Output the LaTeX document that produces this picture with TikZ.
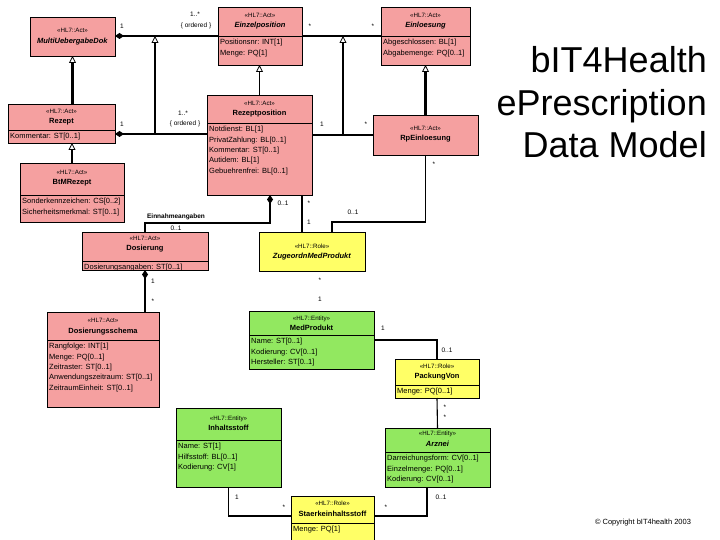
\documentclass[tikz,border=0pt]{standalone}
\usepackage{fontspec}
\setmainfont{Liberation Sans}
\usetikzlibrary{arrows.meta,calc}
\definecolor{actpink}{RGB}{245,160,160}
\definecolor{entgreen}{RGB}{146,232,96}
\definecolor{roleyel}{RGB}{255,255,102}
\newcommand{\stfont}{\fontsize{6.2}{10.5}\selectfont\mdseries}
\tikzset{
  boxbase/.style={draw=black, line width=0.9pt, inner sep=0pt, outer sep=0pt},
  act/.style={boxbase, fill=actpink},
  ent/.style={boxbase, fill=entgreen},
  role/.style={boxbase, fill=roleyel},
  divline/.style={draw=black, line width=0.8pt},
  hdr/.style={align=center, inner sep=0pt, font=\fontsize{7.5}{10.5}\selectfont\bfseries},
  attrs/.style={align=left, inner sep=0pt, anchor=north west, font=\fontsize{7.5}{10.4}\selectfont},
  lbl/.style={inner sep=0pt, font=\fontsize{6.5}{8}\selectfont},
  rolename/.style={inner sep=0pt, font=\fontsize{6.5}{8}\selectfont\bfseries},
  titletext/.style={inner sep=0pt, anchor=base east, font=\fontsize{36}{43}\selectfont},
  assoc/.style={line width=1.1pt},
  thickassoc/.style={line width=2.2pt},
  comp/.style={-{Diamond[length=9pt,width=6pt]}},
  gen/.style={line width=1.1pt, -{Triangle[length=7pt,width=7pt,fill=white,line width=0.8pt]}},
  thickgen/.style={line width=2.2pt, -{Triangle[length=7pt,width=7pt,fill=white,line width=0.8pt]}}
}
% #1 name, #2 x, #3 y, #4 w, #5 h, #6 style, #7 header text centre offset, #8 stereotype, #9 class name
\newcommand{\umlclass}[9]{%
  \node[#6, minimum width=#4pt, minimum height=#5pt, anchor=north west] (#1) at (#2,#3) {};
  \node[hdr] (#1-hd) at ($(#1.north)+(0,#7)$) {{\stfont «HL7::#8»}\\#9};
}
% #1 name, #2 divider offset, #3 attributes
\newcommand{\umlattrs}[3]{%
  \draw[divline] ($(#1.north west)+(0,#2)$) -- ($(#1.north east)+(0,#2)$);
  \node[attrs] (#1-at) at ($(#1.north west)+(2,#2+3.0)$) {#3};
}
\begin{document}
\begin{tikzpicture}[x=1pt,y=-1pt]
\useasboundingbox (0,0) rectangle (720,540);
\fill[white] (0,0) rectangle (720,540);
\clip (0,0) rectangle (720,540);

% ---------- classes ----------
\umlclass{mud}{30}{17}{85}{39}{act}{19.5}{Act}{\textit{MultiUebergabeDok}}
\umlclass{einz}{218}{7}{84}{58}{act}{14}{Act}{\textit{Einzelposition}}
\umlattrs{einz}{29}{Positionsnr: INT[1]\\Menge: PQ[1]}
\umlclass{einl}{381}{7}{89}{58}{act}{14}{Act}{\textit{Einloesung}}
\umlattrs{einl}{29}{Abgeschlossen: BL[1]\\Abgabemenge: PQ[0..1]}
\umlclass{rezept}{8}{104}{107}{39}{act}{13}{Act}{Rezept}
\umlattrs{rezept}{26}{Kommentar: ST[0..1]}
\umlclass{rpos}{207}{95}{105}{100}{act}{14}{Act}{Rezeptposition}
\umlattrs{rpos}{28}{Notdienst: BL[1]\\PrivatZahlung: BL[0..1]\\Kommentar: ST[0..1]\\Autidem: BL[1]\\Gebuehrenfrei: BL[0..1]}
\umlclass{rpein}{373}{115}{105}{40}{act}{19}{Act}{RpEinloesung}
\umlclass{btm}{20}{163}{104}{59}{act}{15}{Act}{BtMRezept}
\umlattrs{btm}{32}{Sonderkennzeichen: CS[0..2]\\Sicherheitsmerkmal: ST[0..1]}
\umlclass{dos}{82}{232}{126}{38}{act}{12}{Act}{Dosierung}
\umlattrs{dos}{29}{Dosierungsangaben: ST[0..1]}
\umlclass{zug}{259}{232}{106}{39}{role}{20}{Role}{\textit{ZugeordnMedProdukt}}
\umlclass{dsch}{47}{312}{112}{95}{act}{14.5}{Act}{Dosierungsschema}
\umlattrs{dsch}{28}{Rangfolge: INT[1]\\Menge: PQ[0..1]\\Zeitraster: ST[0..1]\\Anwendungszeitraum: ST[0..1]\\ZeitraumEinheit: ST[0..1]}
\umlclass{medp}{249}{311}{125}{58}{ent}{12.5}{Entity}{MedProdukt}
\umlattrs{medp}{24}{Name: ST[0..1]\\Kodierung: CV[0..1]\\Hersteller: ST[0..1]}
\umlclass{pack}{395}{359}{84}{39}{role}{13}{Role}{PackungVon}
\umlattrs{pack}{26}{Menge: PQ[0..1]}
\umlclass{inh}{176}{408}{105}{79}{ent}{15.5}{Entity}{Inhaltsstoff}
\umlattrs{inh}{32}{Name: ST[1]\\Hilfsstoff: BL[0..1]\\Kodierung: CV[1]}
\umlclass{arz}{385}{428}{105}{59}{ent}{11}{Entity}{\textit{Arznei}}
\umlattrs{arz}{24}{Darreichungsform: CV[0..1]\\Einzelmenge: PQ[0..1]\\Kodierung: CV[0..1]}
\umlclass{stk}{291}{496}{83}{48}{role}{13}{Role}{Staerkeinhaltsstoff}
\umlattrs{stk}{27}{Menge: PQ[1]}

% ---------- junction coordinates ----------
\coordinate (j1top) at ($(einz.west -| mud.east)+(40,0)$);
\coordinate (j1bot) at ($(rpos.north west)+(-52,39)$);
\coordinate (j2top) at ($(einz.east)+(41,0)$);
\coordinate (j2bot) at ($(rpos.east |- rpein.west)+(31,0)$);

% ---------- connectors ----------
\draw[assoc,comp] (einz.west) -- (einz.west -| mud.east);
\draw[assoc,comp] ($(rpos.north west)+(0,39)$) -- ($(rezept.north east)+(0,30)$);
\draw[gen] (j1bot) -- (j1top);
\draw[thickgen] (rezept.north -| mud.south) -- (mud.south);
\draw[thickgen] (btm.north) -- (btm.north |- rezept.south);
\draw[assoc] (einz.east) -- (einl.west);
\draw[assoc] (rpos.east |- rpein.west) -- (rpein.west);
\draw[gen] (j2bot) -- (j2top);
\draw[gen] (rpos.north) -- (rpos.north |- einz.south);
\draw[thickgen] (rpein.north) -- (rpein.north |- einl.south);
\draw[assoc] (rpein.south) -- ++(0,67) -| ($(zug.north)+(20,0)$);
\draw[assoc] ($(rpos.south west)+(95,0)$) -- ($(zug.north west)+(43,0)$);
\draw[assoc,comp] ($(dos.north west)+(63,0)$) -- ++(0,-9) -| ($(rpos.south west)+(63,0)$);
\draw[thickassoc,comp] ($(dsch.north west)+(98,0)$) -- ($(dos.south west)+(63,0)$);
\draw[assoc] (medp.east) -| (pack.north);
\draw[assoc] (pack.south) -- (arz.north);
\draw[assoc] (inh.south) |- ($(stk.north west)+(0,20)$);
\draw[assoc] ($(stk.north east)+(0,20)$) -| ($(arz.south west)+(42,0)$);

% ---------- multiplicities / labels ----------
\node[lbl] (m1) at (122,26) {1};
\node[lbl] (m2) at (195,14) {1..*};
\node[lbl] (m3) at (196,26) {\{ ordered \}};
\node[lbl] (m4) at (122,124) {1};
\node[lbl] (m5) at (183,113) {1..*};
\node[lbl] (m6) at (185,124) {\{ ordered \}};
\node[lbl] (m7) at (310,26) {*};
\node[lbl] (m8) at (373,26) {*};
\node[lbl] (m9) at (322,124) {1};
\node[lbl] (m10) at (366,124) {*};
\node[lbl] (m11) at (434,164) {*};
\node[lbl] (m12) at (353,212) {0..1};
\node[lbl] (m13) at (309,203) {*};
\node[lbl] (m14) at (309,222) {1};
\node[rolename] (m15) at (176,217) {Einnahmeangaben};
\node[lbl] (m16) at (176,228) {0..1};
\node[lbl] (m17) at (283,203) {0..1};
\node[lbl] (m18) at (153,281) {1};
\node[lbl] (m19) at (153,301) {*};
\node[lbl] (m20) at (320,280) {*};
\node[lbl] (m21) at (320,299) {1};
\node[lbl] (m22) at (383,328) {1};
\node[lbl] (m23) at (447,350) {0..1};
\node[lbl] (m24) at (445,407) {*};
\node[lbl] (m25) at (445,417) {*};
\node[lbl] (m26) at (237,497) {1};
\node[lbl] (m27) at (284,507) {*};
\node[lbl] (m28) at (386,507) {*};
\node[lbl] (m29) at (441,497) {0..1};

% ---------- title ----------
\node[titletext] (t1) at (707,73) {bIT4Health};
\node[titletext] (t2) at (707,115.5) {ePrescription};
\node[titletext] (t3) at (707,158) {Data Model};
\node[inner sep=0pt, font=\fontsize{7.5}{9}\selectfont] (copy) at (643,523) {© Copyright bIT4health 2003};
\end{tikzpicture}
\end{document}
